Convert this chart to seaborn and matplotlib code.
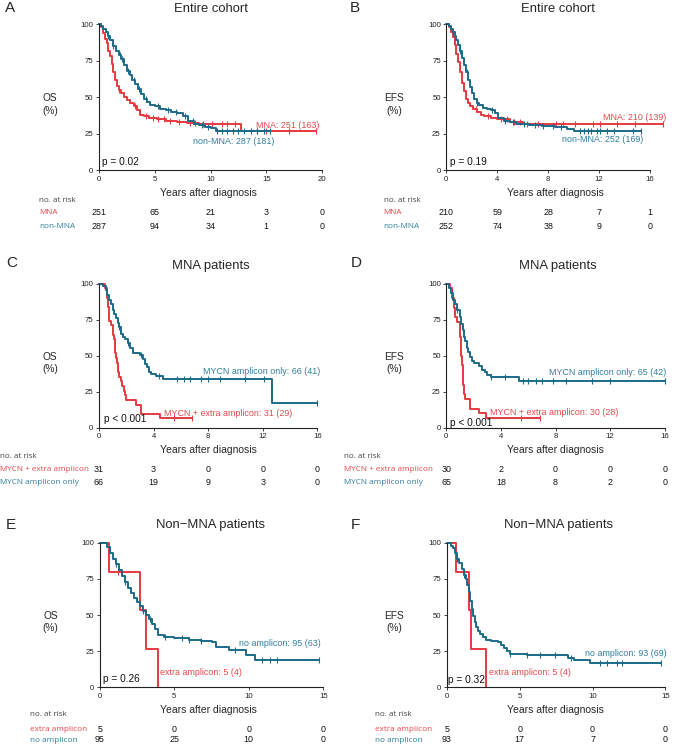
import numpy as np
import matplotlib
matplotlib.use("Agg")
import matplotlib.pyplot as plt
import matplotlib.transforms as mtrans
import seaborn as sns

# Kaplan-Meier curves: drop times (years) and survival (%) after each drop
# ---- A: OS, entire cohort
a_mna_t = [0, 0.2, 0.4, 0.55, 0.7, 0.85, 1.0, 1.15, 1.3, 1.45, 1.6, 1.8, 2.0, 2.25, 2.5, 2.8, 3.1, 3.4, 3.7, 4.0,
           4.5, 5.2, 6.0, 7.0, 7.9, 9.0, 12.7]
a_mna_s = [100, 98, 94, 90, 87, 82, 78, 73, 67, 62, 58, 55, 53, 50, 48, 46, 44, 41, 38, 37,
           36, 35, 34, 33, 32.5, 32, 27]
a_mna_end = 19.5
a_mna_cens = [1.8, 3.2, 4.2, 4.8, 5.3, 5.8, 6.4, 7.2, 8.2, 8.6, 9.3, 10.1, 11.0, 11.5, 12.2, 14.2, 15.0, 17.0, 19.5]
a_non_t = [0, 0.2, 0.4, 0.6, 0.8, 1.0, 1.25, 1.5, 1.75, 2.0, 2.25, 2.5, 2.75, 3.0, 3.25, 3.5, 3.75, 4.0, 4.3, 4.6,
           5.0, 5.5, 6.0, 6.5, 7.0, 7.5, 8.0, 8.5, 9.0, 9.5, 10.0, 10.5]
a_non_s = [100, 99, 97, 95, 92, 89, 85, 82, 79, 76, 72, 68, 65, 62, 59, 56, 52, 49, 47, 45,
           44, 42, 41, 40, 39, 37, 34, 32, 31, 30, 29, 27]
a_non_end = 15.3
a_non_cens = [0.8, 1.3, 1.9, 2.1, 2.6, 3.1, 3.6, 4.2, 5.3, 6.2, 6.9, 7.7, 8.4, 9.2, 9.8, 10.6, 11.0, 11.5, 12.0,
              12.5, 13.0, 13.6, 14.2, 14.8, 15.3]

# ---- B: EFS, entire cohort
b_mna_t = [0, 0.2, 0.35, 0.5, 0.65, 0.8, 0.95, 1.1, 1.25, 1.4, 1.55, 1.7, 1.9, 2.1, 2.4, 2.7, 3.0, 3.5, 4.0, 5.0, 6.0]
b_mna_s = [100, 98, 95, 91, 86, 80, 74, 67, 60, 54, 49, 46, 44, 42, 40, 38, 37, 36, 35, 33, 31.5]
b_mna_end = 17.0
b_mna_cens = [2.3, 3.3, 4.3, 4.8, 5.3, 5.8, 6.3, 7.2, 8.6, 9.2, 10.1, 11.5, 12.1, 13.4, 14.8, 17.0]
b_non_t = [0, 0.2, 0.35, 0.5, 0.65, 0.8, 0.95, 1.1, 1.25, 1.4, 1.55, 1.7, 1.85, 2.0, 2.2, 2.4, 2.6, 2.9, 3.2, 3.5,
           3.8, 4.1, 4.5, 5.0, 5.5, 6.5, 7.5, 8.5, 9.5, 10.0]
b_non_s = [100, 99, 97, 95, 92, 89, 86, 82, 77, 72, 67, 62, 57, 53, 49, 46, 45, 43, 42, 41,
           39, 36, 34, 33, 32, 31, 30.5, 29.5, 28.5, 27]
b_non_end = 15.3
b_non_cens = [0.5, 1.1, 1.6, 2.4, 3.6, 4.6, 5.2, 6.1, 7.0, 7.6, 8.4, 9.0, 10.5, 10.8, 11.1, 11.4, 11.8, 12.1,
              12.6, 13.2, 14.7, 15.3]

# ---- C: OS, MNA patients
c_ext_t = [0, 0.45, 0.55, 0.6, 0.65, 0.7, 0.9, 1.05, 1.1, 1.15, 1.2, 1.25, 1.3, 1.4, 1.5, 1.6, 1.7, 1.8, 1.9, 2.0,
           2.7, 3.1, 4.5]
c_ext_s = [100, 96.8, 93.5, 90.3, 83.9, 74.2, 71, 64.5, 61.3, 58.1, 51.6, 48.4, 45.2, 38.7, 35.5, 32.3, 29, 25.8,
           22.6, 19.4, 16.1, 9.7, 6.5]
c_ext_end = 6.8
c_ext_cens = [5.5, 6.8]
c_only_t = [0, 0.3, 0.5, 0.6, 0.7, 0.85, 1.0, 1.1, 1.25, 1.4, 1.5, 1.6, 1.75, 1.9, 2.1, 2.3, 2.5, 3.0, 3.2, 3.35,
            3.5, 3.65, 3.8, 4.2, 4.7, 12.7]
c_only_s = [100, 98.5, 95.5, 92, 89, 86, 82, 79, 76, 73, 70, 65, 63, 61.5, 58.5, 55.5, 52, 50.5, 47.5, 44.5,
            42, 39, 37.5, 36, 34, 17]
c_only_end = 16.0
c_only_cens = [1.5, 2.1, 3.1, 4.4, 5.7, 6.2, 6.7, 7.5, 8.0, 8.9, 10.7, 12.1, 16.0]

# ---- D: EFS, MNA patients
d_ext_t = [0, 0.3, 0.45, 0.55, 0.65, 0.8, 1.0, 1.05, 1.1, 1.15, 1.2, 1.25, 1.3, 1.35, 1.7, 2.4, 2.9]
d_ext_s = [100, 96.7, 90, 83.3, 76.7, 73.3, 63.3, 56.7, 50, 43.3, 36.7, 30, 23.3, 20, 13.3, 10, 6.7]
d_ext_end = 6.9
d_ext_cens = [5.5, 6.9]
d_only_t = [0, 0.2, 0.35, 0.5, 0.65, 0.8, 1.0, 1.1, 1.2, 1.3, 1.4, 1.5, 1.6, 1.75, 1.9, 2.0, 2.4, 2.6, 2.8, 3.0,
            3.3, 5.3]
d_only_s = [100, 97, 93.8, 89, 86, 81.5, 76.9, 72.3, 67.7, 63, 60, 55.4, 52.3, 49.2, 46, 44.6, 43, 40, 38.5, 36.9,
            35.4, 32.3]
d_only_end = 16.0
d_only_cens = [0.8, 3.3, 4.3, 5.6, 6.0, 6.6, 7.0, 7.8, 8.8, 10.7, 12.0, 16.0]

# ---- E: OS, non-MNA patients
e_ext_t = [0, 0.6, 2.7, 3.1, 3.9]
e_ext_s = [100, 80, 53.3, 26.7, 0]
e_ext_end = 3.9
e_ext_cens = [1.2]
e_no_t = [0, 0.5, 0.7, 0.9, 1.1, 1.3, 1.5, 1.7, 1.9, 2.1, 2.3, 2.5, 2.7, 2.9, 3.1, 3.3, 3.5, 3.7, 3.9, 4.3,
          5.0, 6.0, 6.8, 7.5, 7.8, 8.7, 9.8, 10.4]
e_no_s = [100, 97, 93, 89, 85, 81, 77, 73, 69, 65, 62, 59, 56, 53, 50, 47, 44, 40, 36, 35,
          34, 33, 32, 31, 28, 26, 22, 19]
e_no_end = 14.7
e_no_cens = [1.1, 1.7, 2.9, 3.4, 4.4, 5.5, 6.0, 6.8, 9.1, 10.9, 11.4, 11.9, 14.7]

# ---- F: EFS, non-MNA patients
f_ext_t = [0, 0.6, 1.5, 1.65, 2.7]
f_ext_s = [100, 80, 53.3, 26.7, 0]
f_ext_end = 2.7
f_ext_cens = [1.2]
f_no_t = [0, 0.25, 0.4, 0.55, 0.7, 0.85, 1.0, 1.15, 1.3, 1.4, 1.5, 1.6, 1.7, 1.8, 1.9, 2.0, 2.15, 2.3, 2.5, 2.7,
          3.0, 3.5, 3.7, 3.9, 4.1, 4.3, 5.5, 8.3, 8.7, 9.8]
f_no_s = [100, 98, 96, 93, 89, 86, 82, 78, 75, 71, 66, 60, 54, 49, 45, 42, 39, 37, 35, 33,
          32, 31, 29, 27, 25, 23, 22, 20, 19, 17]
f_no_end = 14.7
f_no_cens = [0.7, 1.2, 4.3, 5.5, 6.4, 7.4, 8.5, 10.5, 11.0, 11.7, 12.0, 14.7]

# ---- numbers at risk
a_risk_t = [0, 5, 10, 15, 20]
a_risk_mna = [251, 65, 21, 3, 0]
a_risk_non = [287, 94, 34, 1, 0]
b_risk_t = [0, 4, 8, 12, 16]
b_risk_mna = [210, 59, 28, 7, 1]
b_risk_non = [252, 74, 38, 9, 0]
c_risk_t = [0, 4, 8, 12, 16]
c_risk_ext = [31, 3, 0, 0, 0]
c_risk_only = [66, 19, 9, 3, 0]
d_risk_t = [0, 4, 8, 12, 16]
d_risk_ext = [30, 2, 0, 0, 0]
d_risk_only = [65, 18, 8, 2, 0]
e_risk_t = [0, 5, 10, 15]
e_risk_ext = [5, 0, 0, 0]
e_risk_no = [95, 25, 10, 0]
f_risk_t = [0, 5, 10, 15]
f_risk_ext = [5, 0, 0, 0]
f_risk_no = [93, 17, 7, 0]

RED = "#e53a40"
BLUE = "#1c6a8a"
RED_TXT = "#e8474c"
BLUE_TXT = "#2f7f9e"

sns.set_theme(style="ticks")
plt.rcParams["font.family"] = ["Liberation Sans", "DejaVu Sans"]
plt.rcParams["axes.linewidth"] = 0.8
plt.rcParams["axes.edgecolor"] = "#222222"

W, H = 674, 746
fig = plt.figure(figsize=(W / 100, H / 100), dpi=100)


def fx(px):
    return px / W


def fy(py):
    return 1 - py / H


def km(ax, t, s, end, cens, color):
    xs = list(t) + ([end] if end > t[-1] else [])
    ys = list(s) + ([s[-1]] if end > t[-1] else [])
    sns.lineplot(x=xs, y=ys, drawstyle="steps-post", estimator=None, color=color, linewidth=1.4,
                 ax=ax, clip_on=False)
    idx = np.searchsorted(np.array(t), np.array(cens), side="right") - 1
    cy = np.array(s)[idx]
    ax.plot(cens, cy, linestyle="none", marker="|", markersize=4, markeredgewidth=0.8, color=color,
            clip_on=False)


def panel(box, letter, title, ylab, xmax, xticks, curves, labels, pval, risk, risk_rows, risk_x):
    left, right, top, bottom = box
    ax = fig.add_axes([fx(left), fy(bottom), fx(right) - fx(left), (bottom - top) / H])
    for (t, s, end, cens, col) in curves:
        km(ax, t, s, end, cens, col)
    ax.set_xlim(0, xmax)
    ax.set_ylim(0, 100)
    ax.set_xticks(xticks)
    ax.set_yticks([0, 25, 50, 75, 100])
    ax.set_xlabel("")
    ax.set_ylabel("")
    sns.despine(ax=ax)
    ax.tick_params(labelsize=5.6, length=2.5, width=0.6, pad=1.5, colors="#222222")
    for (x, y, txt, ha, col) in labels:
        ax.text(x, y, txt, ha=ha, va="center", fontsize=6.4, color=col, clip_on=False)
    ax.text(pval[0], pval[1], pval[2], ha="left", va="center", fontsize=7.3, color="#111111")

    cy = (top + bottom) / 2
    fig.text(fx(letter[1]), fy(letter[2]), letter[0], ha="left", va="center", fontsize=11)
    fig.text(fx(title[1]), fy(title[2]), title[0], ha="center", va="center", fontsize=9.4)
    fig.text(fx(title[1] - 3), fy(bottom + 22.4), "Years after diagnosis", ha="center", va="center",
             fontsize=7.5)
    fig.text(fx(left - ylab[1]), fy(cy + 7), ylab[0] + "\n(%)", ha="center", va="center", fontsize=7.3,
             multialignment="center", linespacing=1.3)

    tr = mtrans.blended_transform_factory(ax.transData, fig.transFigure)
    y0, y1, y2 = risk_rows
    fig.text(fx(risk_x), fy(y0), "no. at risk", ha="left", va="center", fontsize=5.8,
             family=["Open Sans", "DejaVu Sans"], color="#444444")
    for (name, vals, col), yy in zip(risk[1:], (y1, y2)):
        fig.text(fx(risk_x), fy(yy), name, ha="left", va="center", fontsize=5.9,
                 family=["Open Sans", "DejaVu Sans"], color=col)
        for x, v in zip(risk[0], vals):
            ax.text(x, fy(yy), str(v), transform=tr, ha="center", va="center", fontsize=6.4, color="#111111")
    return ax


panel((99, 322, 24.3, 170.3), ("A", 5, 7.5), ("Entire cohort", 211, 8.5), ("OS", 49), 20, [0, 5, 10, 15, 20],
      [(a_mna_t, a_mna_s, a_mna_end, a_mna_cens, RED), (a_non_t, a_non_s, a_non_end, a_non_cens, BLUE)],
      [(19.8, 31, "MNA: 251 (163)", "right", RED_TXT), (15.7, 20, "non-MNA: 287 (181)", "right", BLUE_TXT)],
      (0.3, 5.5, "p = 0.02"),
      (a_risk_t, ("MNA", a_risk_mna, RED_TXT), ("non-MNA", a_risk_non, BLUE_TXT)), (200, 212.3, 226.7), 39)

panel((446.3, 650, 24.3, 170.3), ("B", 350, 8), ("Entire cohort", 558, 8.5), ("EFS", 52.5), 16, [0, 4, 8, 12, 16],
      [(b_mna_t, b_mna_s, b_mna_end, b_mna_cens, RED), (b_non_t, b_non_s, b_non_end, b_non_cens, BLUE)],
      [(17.3, 36.3, "MNA: 210 (139)", "right", RED_TXT), (15.5, 20.8, "non-MNA: 252 (169)", "right", BLUE_TXT)],
      (0.3, 5.5, "p = 0.19"),
      (b_risk_t, ("MNA", b_risk_mna, RED_TXT), ("non-MNA", b_risk_non, BLUE_TXT)), (200, 212.3, 226.7), 383.7)

panel((99, 317.3, 283.7, 427.7), ("C", 6, 263), ("MNA patients", 211, 265.7), ("OS", 49), 16, [0, 4, 8, 12, 16],
      [(c_ext_t, c_ext_s, c_ext_end, c_ext_cens, RED), (c_only_t, c_only_s, c_only_end, c_only_cens, BLUE)],
      [(16.25, 39, "MYCN amplicon only: 66 (41)", "right", BLUE_TXT),
       (4.8, 10, "MYCN + extra amplicon: 31 (29)", "left", RED_TXT)],
      (0.37, 5.8, "p < 0.001"),
      (c_risk_t, ("MYCN + extra amplicon", c_risk_ext, RED_TXT), ("MYCN amplicon only", c_risk_only, BLUE_TXT)),
      (456, 469.3, 482.3), 0.5)

panel((446.3, 664.7, 283.7, 427.7), ("D", 351, 263), ("MNA patients", 558, 266), ("EFS", 52.5), 16, [0, 4, 8, 12, 16],
      [(d_ext_t, d_ext_s, d_ext_end, d_ext_cens, RED), (d_only_t, d_only_s, d_only_end, d_only_cens, BLUE)],
      [(16.1, 38, "MYCN amplicon only: 65 (42)", "right", BLUE_TXT),
       (3.2, 10.4, "MYCN + extra amplicon: 30 (28)", "left", RED_TXT)],
      (0.3, 3.5, "p < 0.001"),
      (d_risk_t, ("MYCN + extra amplicon", d_risk_ext, RED_TXT), ("MYCN amplicon only", d_risk_only, BLUE_TXT)),
      (456.7, 469.3, 482.3), 344.3)

panel((99.7, 323.3, 542.7, 687.3), ("E", 6, 525), ("Non\u2212MNA patients", 211, 525), ("OS", 49), 15, [0, 5, 10, 15],
      [(e_ext_t, e_ext_s, e_ext_end, e_ext_cens, RED), (e_no_t, e_no_s, e_no_end, e_no_cens, BLUE)],
      [(14.8, 30.4, "no amplicon: 95 (63)", "right", BLUE_TXT),
       (4.05, 10, "extra amplicon: 5 (4)", "left", RED_TXT)],
      (0.22, 6, "p = 0.26"),
      (e_risk_t, ("extra amplicon", e_risk_ext, RED_TXT), ("no amplicon", e_risk_no, BLUE_TXT)),
      (715, 729.3, 740), 30)

panel((447, 665.3, 542.7, 687.3), ("F", 351, 525), ("Non\u2212MNA patients", 558, 525), ("EFS", 53), 15, [0, 5, 10, 15],
      [(f_ext_t, f_ext_s, f_ext_end, f_ext_cens, RED), (f_no_t, f_no_s, f_no_end, f_no_cens, BLUE)],
      [(15.1, 23.5, "no amplicon: 93 (69)", "right", BLUE_TXT),
       (2.9, 10, "extra amplicon: 5 (4)", "left", RED_TXT)],
      (0.1, 5, "p = 0.32"),
      (f_risk_t, ("extra amplicon", f_risk_ext, RED_TXT), ("no amplicon", f_risk_no, BLUE_TXT)),
      (715, 729.3, 740), 375)

fig.savefig("out.png", dpi=100)
